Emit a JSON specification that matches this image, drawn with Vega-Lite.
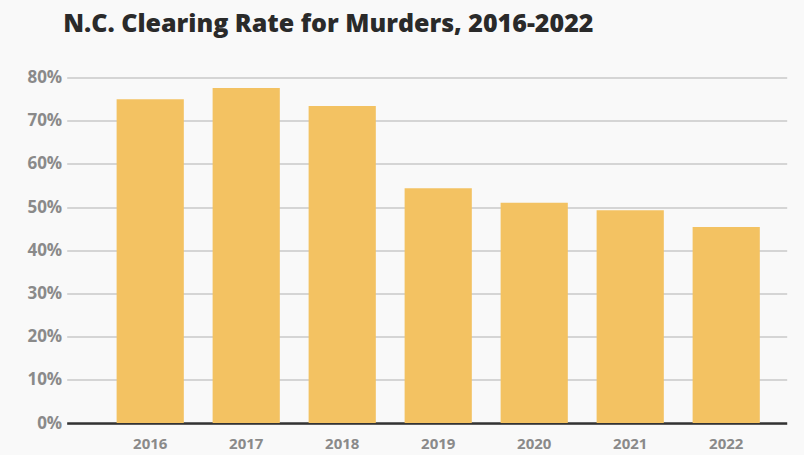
{
  "$schema": "https://vega.github.io/schema/vega-lite/v6.json",
  "width": 720,
  "height": 345.5,
  "autosize": {"type": "none"},
  "padding": {"left": 66.7, "top": 77.6, "right": 17.3, "bottom": 31.9},
  "background": "#f9f9f9",
  "title": {
    "text": "N.C. Clearing Rate for Murders, 2016-2022",
    "anchor": "start",
    "frame": "group",
    "font": "Open Sans",
    "fontWeight": 800,
    "fontSize": 25,
    "color": "#2a2a2a",
    "baseline": "alphabetic",
    "offset": 12,
    "dx": -3.5
  },
  "data": {
    "values": [
      {"year": "2016", "rate": 75.0},
      {"year": "2017", "rate": 77.6},
      {"year": "2018", "rate": 73.4},
      {"year": "2019", "rate": 54.4},
      {"year": "2020", "rate": 51.0},
      {"year": "2021", "rate": 49.3},
      {"year": "2022", "rate": 45.4}
    ]
  },
  "mark": {"type": "bar", "color": "#f3c262"},
  "encoding": {
    "x": {
      "field": "year",
      "type": "ordinal",
      "scale": {"paddingInner": 0.3, "paddingOuter": 0.4, "align": 0.65},
      "axis": {
        "title": null,
        "labelAngle": 0,
        "ticks": false,
        "domainColor": "#333333",
        "domainWidth": 2.5,
        "labelFont": "Open Sans",
        "labelFontWeight": 700,
        "labelFontSize": 15,
        "labelColor": "#8a8a8a",
        "labelPadding": 13,
        "labelBaseline": "top"
      }
    },
    "y": {
      "field": "rate",
      "type": "quantitative",
      "scale": {"domain": [0, 80]},
      "axis": {
        "title": null,
        "values": [0, 10, 20, 30, 40, 50, 60, 70, 80],
        "labelExpr": "datum.value + '%'",
        "domain": false,
        "ticks": false,
        "gridColor": "#c8c8c8",
        "gridWidth": 1.5,
        "labelFont": "Open Sans",
        "labelFontWeight": 700,
        "labelFontSize": 17,
        "labelColor": "#8a8a8a",
        "labelPadding": 5
      }
    }
  },
  "config": {"view": {"stroke": null}}
}
